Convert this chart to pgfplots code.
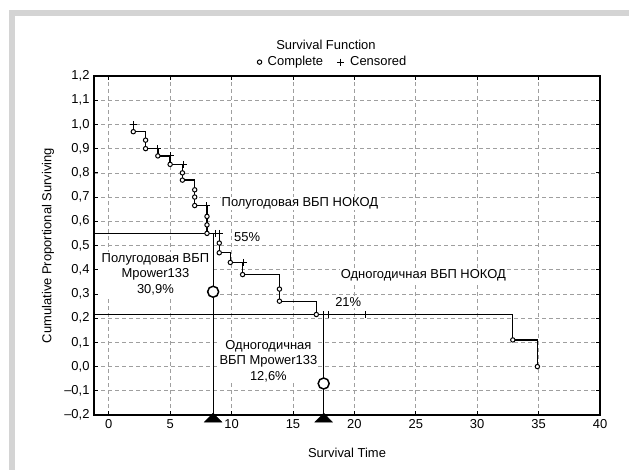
\documentclass[border=0pt]{standalone}
\usepackage{fontspec}
\setmainfont{Liberation Sans}
\usepackage{pgfplots}
\pgfplotsset{compat=1.18}

\begin{document}
\fontsize{13}{15.5}\selectfont
\begin{tikzpicture}[font=\fontsize{13}{15.5}\selectfont]
\useasboundingbox (0bp,0bp) rectangle (629bp,470bp);
% grey frame of the original figure
\fill[black!17] (9bp,0bp) rectangle (15bp,460bp);
\fill[black!17] (9bp,454bp) rectangle (629bp,460bp);
\node at (326bp,425bp) {Survival Function};
\begin{axis}[
    font=\fontsize{13}{15.5}\selectfont,
    at={(94bp,55bp)}, anchor=south west,
    scale only axis, width=506bp, height=339bp,
    xmin=-1.2, xmax=40, ymin=-0.2, ymax=1.2,
    xtick={0,5,...,40},
    ytick={-0.2,-0.1,0,0.1,0.2,0.3,0.4,0.5,0.6,0.7,0.8,0.9,1.0,1.1,1.2},
    yticklabels={{–0,2},{–0,1},{0,0},{0,1},{0,2},{0,3},{0,4},{0,5},{0,6},{0,7},{0,8},{0,9},{1,0},{1,1},{1,2}},
    /pgf/number format/assume math mode=true,
    tick label style={font=\fontsize{13}{15.5}\selectfont},
    label style={font=\fontsize{13}{15.5}\selectfont},
    tick align=inside, major tick length=4bp,
    tick style={black, line width=0.8bp},
    axis line style={black, line width=1.6bp},
    grid=major,
    major grid style={gray!75, line width=0.7bp, dash pattern=on 4bp off 3bp},
    xlabel={Survival Time},
    ylabel={Cumulative Proportional Surviving},
    xlabel style={at={(axis description cs:0.5,-0.112)}, anchor=center},
    ylabel style={at={(axis description cs:-0.091,0.5)}, anchor=center},
    legend style={at={(axis description cs:0.472,1.041)}, anchor=center,
                  draw=none, fill=none, legend columns=2,
                  font=\fontsize{13}{15.5}\selectfont,
                  /tikz/every odd column/.append style={column sep=4bp},
                  /tikz/every even column/.append style={column sep=12bp}},
    legend cell align=left,
    clip=false,
]
% Kaplan-Meier step curve
\addplot[black, line width=1.3bp, forget plot] coordinates {
(2,1.0) (2,0.97) (3,0.97) (3,0.90) (4,0.90) (4,0.87) (5,0.87) (5,0.835)
(6,0.835) (6,0.77) (7,0.77) (7,0.665) (8,0.665) (8,0.55) (9,0.55) (9,0.47)
(9.9,0.47) (9.9,0.43) (10.9,0.43) (10.9,0.38) (13.9,0.38) (13.9,0.27)
(16.9,0.27) (16.9,0.215) (32.9,0.215) (32.9,0.11) (34.9,0.11) (34.9,0.0)};
% reference lines
\addplot[black, line width=1.2bp, forget plot] coordinates {(-1.2,0.55) (8.5,0.55) (8.5,-0.2)};
\addplot[black, line width=1.2bp, forget plot] coordinates {(-1.2,0.215) (17.5,0.215) (17.5,-0.2)};
% complete
\addplot[only marks, mark=*, mark size=2.2bp,
         mark options={draw=black, fill=white, line width=1bp}] coordinates {
(2,0.97) (3,0.935) (3,0.90) (4,0.87) (5,0.835) (6,0.80) (6,0.77)
(7,0.73) (7,0.70) (7,0.665) (8,0.62) (8,0.585) (8,0.55) (9,0.51) (9,0.47)
(9.9,0.43) (10.9,0.38) (13.9,0.32) (13.9,0.27) (16.9,0.215) (32.9,0.11) (34.9,0.0)};
\addlegendentry{Complete}
% censored
\addplot[only marks, mark=+, mark size=3.5bp, mark options={black, line width=1bp}] coordinates {
(2,1.0) (4,0.90) (5,0.87) (6.05,0.835) (8,0.665) (8.7,0.55) (9.05,0.55)
(10.95,0.43) (17.5,0.215) (17.9,0.215) (20.9,0.215)};
\addlegendentry{Censored}
% medians
\addplot[only marks, mark=*, mark size=5.5bp, forget plot,
         mark options={draw=black, fill=white, line width=1.5bp}] coordinates {(8.5,0.309) (17.5,-0.07)};
\addplot[only marks, mark=triangle*, mark size=6bp, forget plot,
         mark options={black, xscale=1.7}] coordinates {(8.5,-0.217) (17.5,-0.217)};
% annotations
\node[fill=white, inner sep=1bp, anchor=west] at (axis cs:9.1,0.673) {Полугодовая ВБП НОКОД};
\node[fill=white, inner sep=1bp] at (axis cs:11.27,0.533) {55\%};
\node[fill=white, inner sep=1bp, align=center] at (axis cs:3.8,0.382) {Полугодовая ВБП\\Mpower133\\30,9\%};
\node[fill=white, inner sep=1bp, anchor=west] at (axis cs:18.8,0.378) {Одногодичная ВБП НОКОД};
\node[fill=white, inner sep=1bp] at (axis cs:19.5,0.266) {21\%};
\node[fill=white, inner sep=1bp, align=center] at (axis cs:13.0,0.022) {Одногодичная\\ВБП Mpower133\\12,6\%};
\end{axis}
\end{tikzpicture}
\end{document}
